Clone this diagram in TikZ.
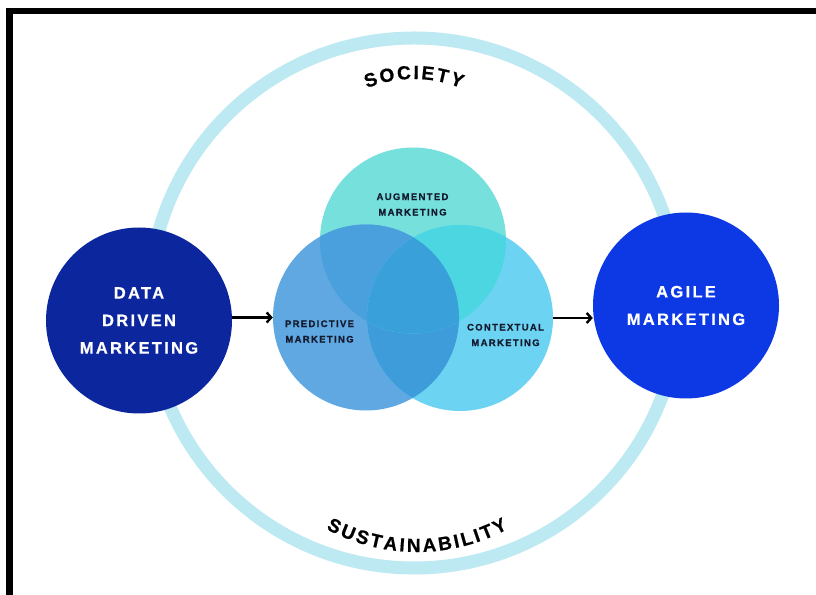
\documentclass[tikz,border=0pt]{standalone}
\usepackage{fontspec}
\setmainfont{Liberation Sans}[BoldFeatures={FakeBold=0.6}]
\newfontfamily\spacedfont{Liberation Sans}[LetterSpace=14, BoldFeatures={FakeBold=0.6}]
\usetikzlibrary{arrows.meta,calc}

\definecolor{ringblue}{HTML}{BCE9F2}
\definecolor{navy}{HTML}{0C269E}
\definecolor{agileblue}{HTML}{0C39E4}
\definecolor{augfill}{HTML}{75E0DC}
\definecolor{predfill}{HTML}{5FA8E1}
\definecolor{ctxfill}{HTML}{6DD3F3}
\definecolor{augpred}{HTML}{4AA0DC}
\definecolor{augctx}{HTML}{4BD6E2}
\definecolor{predctx}{HTML}{3E9CDB}
\definecolor{allthree}{HTML}{3AA0DA}
\definecolor{inkdark}{HTML}{141A2E}

\begin{document}
\begin{tikzpicture}[x=1pt,y=1pt,
  bigdisc/.style={circle, minimum size=186pt, inner sep=0pt, text=white, align=center,
    font=\spacedfont\bfseries\fontsize{16.5}{27.5}\selectfont},
  venndisc/.style={circle, minimum size=186pt, inner sep=0pt},
  vennlabel/.style={text=inkdark, align=center, inner sep=0pt,
    font=\spacedfont\bfseries\fontsize{9.5}{15.5}\selectfont},
  arclabel/.style={text=black, anchor=base, inner sep=0pt,
    font=\bfseries\fontsize{19}{19}\selectfont},
  flow/.style={line width=2.4pt, -{Straight Barb[length=4.5pt,width=10pt,line width=2.4pt]}}
]
\useasboundingbox (0,0) rectangle (816,594);
\fill[white] (0,0) rectangle (816,594);

% outer ring
\coordinate (hub) at (414,291);
\draw[ringblue, line width=13pt] (hub) circle (265pt);

% frame (top and left edges)
\draw[line width=6.5pt, line join=miter] (830,583) -- (9.5,583) -- (9.5,-10);

% the three overlapping discs
\node[venndisc, fill=augfill]  (aug)  at (413,353.5) {};
\node[venndisc, fill=predfill] (pred) at (366,276.5) {};
\node[venndisc, fill=ctxfill]  (ctx)  at (460,276) {};
\begin{scope}
  \clip (pred.center) circle (93pt);
  \fill[predctx] (ctx.center) circle (93pt);
\end{scope}
\begin{scope}
  \clip (aug.center) circle (93pt);
  \fill[augpred] (pred.center) circle (93pt);
  \fill[augctx] (ctx.center) circle (93pt);
  \clip (pred.center) circle (93pt);
  \fill[allthree] (ctx.center) circle (93pt);
\end{scope}

\node[vennlabel] (augl)  at (412.5,389.5) {AUGMENTED\\MARKETING};
\node[vennlabel] (predl) at (319.5,262.5) {PREDICTIVE\\MARKETING};
\node[vennlabel] (ctxl)  at (505.5,259)   {CONTEXTUAL\\MARKETING};

% input and output discs
\node[bigdisc, fill=navy]      (dd)    at (139,273.5) {DATA\\DRIVEN\\MARKETING};
\node[bigdisc, fill=agileblue] (agile) at (686,288.5) {AGILE\\MARKETING};

% flow arrows
\draw[flow] (dd.east |- pred.west) -- (pred.west);
\draw[flow] (ctx.east) -- (ctx.east -| agile.west);

% curved words
\coordinate (topc) at (414,390);
\foreach \ch/\o [count=\i] in {S/-42.0,O/-26.0,C/-9.6,I/2.1,E/13.3,T/27.6,Y/42.0}
  \node[arclabel, rotate={0-(\o)*0.45837}] (soc\i)
    at ($(topc)+({90-(\o)*0.45837}:125pt)$) {\ch};

\coordinate (botc) at (417,232);
\foreach \ch/\o [count=\i] in {S/-88.56,U/-72.86,S/-57.17,T/-42.53,A/-27.36,I/-15.36,N/-3.36,A/12.86,B/29.08,I/41.08,L/52.03,I/62.97,T/73.92,Y/88.56}
  \node[arclabel, rotate={(\o)*0.30156}] (sus\i)
    at ($(botc)+({270+(\o)*0.30156}:190pt)$) {\ch};
\end{tikzpicture}
\end{document}
